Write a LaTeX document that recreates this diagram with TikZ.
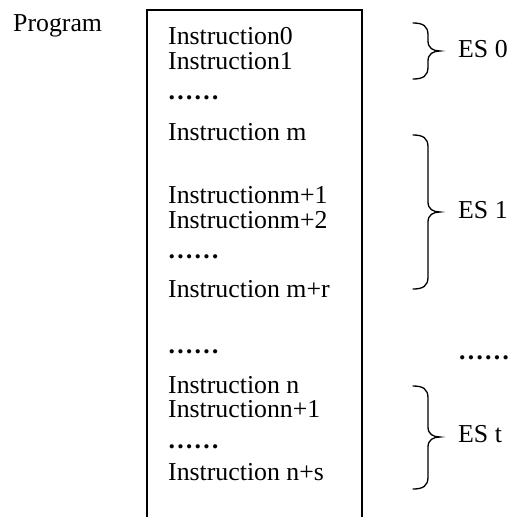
\documentclass[tikz,border=0pt]{standalone}
\usepackage{fontspec}
\setmainfont{Liberation Serif}
% right brace from (x0,top) to (x0,bottom) with its tip at mid height
\newcommand\esbrace[3]{% #1 top, #2 tip, #3 bottom
  \draw[bracestroke] (413,#1) .. controls (423,#1) and (428,#1+3) .. (428,#1+12)
    -- (428,#2-10) .. controls (428,#2-3) and (433,#2) .. (440,#2)
    .. controls (433,#2) and (428,#2+3) .. (428,#2+10)
    -- (428,#3-12) .. controls (428,#3-3) and (423,#3) .. (413,#3);}
\begin{document}
\begin{tikzpicture}[x=1pt,y=-1pt,
  every node/.style={inner sep=0pt,anchor=base west,
    font=\fontsize{25.8}{30}\selectfont},
  dotrow/.style={font=\fontsize{25.8}{30}\selectfont\bfseries},
  boxstroke/.style={line width=1.8pt,line cap=butt,line join=miter},
  bracestroke/.style={line width=1.3pt,line cap=round}]
\useasboundingbox[fill=white] (0,0) rectangle (509,517);

\node (prog) at (13,31.5) {Program};

% program box, open at the bottom
\draw[boxstroke] (147,517) -- (147,10) -- (362,10) -- (362,517);

% instruction listing
\node (i0)  at (168,44)    {Instruction0};
\node (i1)  at (168,69)    {Instruction1};
\node[dotrow] (d1)  at (167.5,99)    {……};
\node (im)  at (168,140)   {Instruction m};
\node (im1) at (168,203)   {Instructionm+1};
\node (im2) at (168,228)   {Instructionm+2};
\node[dotrow] (d2)  at (167.5,258)   {……};
\node (imr) at (168,297)   {Instruction m+r};
\node[dotrow] (d3)  at (167.5,353)   {……};
\node (in)  at (168,393)   {Instruction n};
\node (in1) at (168,417.5) {Instructionn+1};
\node[dotrow] (d4)  at (167.5,448)   {……};
\node (ins) at (168,480)   {Instruction n+s};

% execution segments
\esbrace{23}{51}{79}
\node (es0) at (458,57) {ES 0};
\esbrace{135}{212}{289}
\node (es1) at (458,218.5) {ES 1};
\node[dotrow] (dr)  at (458,359) {……};
\esbrace{386}{437}{489}
\node (est) at (458,442.5) {ES t};
\end{tikzpicture}
\end{document}
